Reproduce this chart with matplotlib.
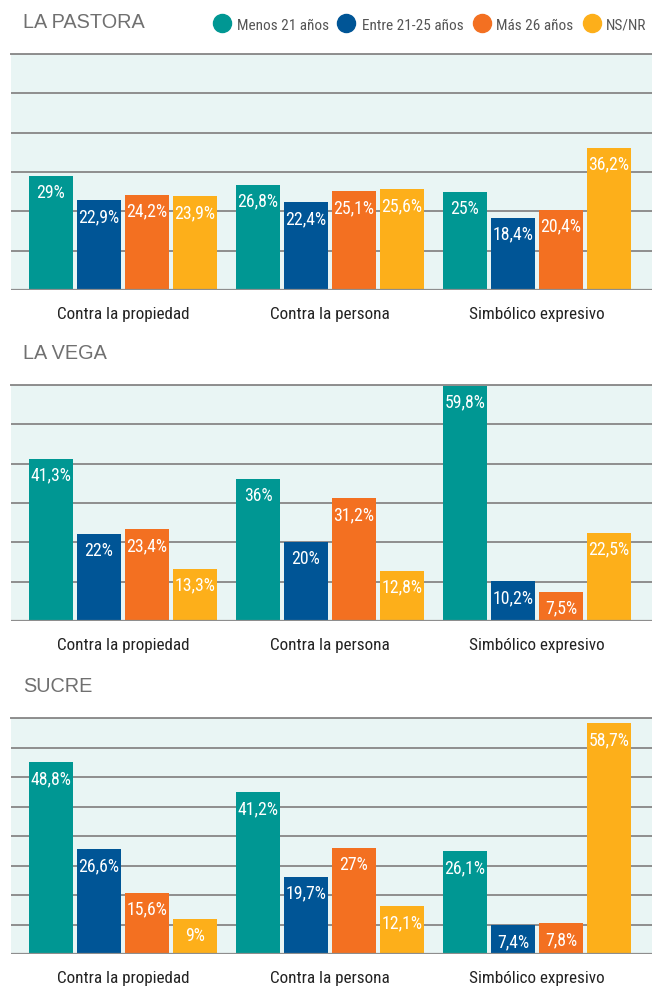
import matplotlib
matplotlib.use("Agg")
import matplotlib.pyplot as plt
from matplotlib.lines import Line2D
from matplotlib import font_manager as fm
import numpy as np

categories = ["Contra la propiedad", "Contra la persona", "Simbólico expresivo"]
series_names = ["Menos 21 años", "Entre 21-25 años", "Más 26 años", "NS/NR"]
colors = ["#009793", "#005596", "#F37021", "#FDAF1A"]

panel_titles = ["LA PASTORA", "LA VEGA", "SUCRE"]

pastora_menos21 = [29.0, 26.8, 25.0]
pastora_21_25 = [22.9, 22.4, 18.4]
pastora_mas26 = [24.2, 25.1, 20.4]
pastora_nsnr = [23.9, 25.6, 36.2]

vega_menos21 = [41.3, 36.0, 59.8]
vega_21_25 = [22.0, 20.0, 10.2]
vega_mas26 = [23.4, 31.2, 7.5]
vega_nsnr = [13.3, 12.8, 22.5]

sucre_menos21 = [48.8, 41.2, 26.1]
sucre_21_25 = [26.6, 19.7, 7.4]
sucre_mas26 = [15.6, 27.0, 7.8]
sucre_nsnr = [9.0, 12.1, 58.7]

panels = [
    [pastora_menos21, pastora_21_25, pastora_mas26, pastora_nsnr],
    [vega_menos21, vega_21_25, vega_mas26, vega_nsnr],
    [sucre_menos21, sucre_21_25, sucre_mas26, sucre_nsnr],
]
grid_steps = [10, 10, 7.5]

available = set(f.name for f in fm.fontManager.ttflist)
def pick(prefs):
    for p in prefs:
        if p in available:
            return [p, "DejaVu Sans"]
    return ["DejaVu Sans"]

NARROW = pick(["Roboto Condensed", "Liberation Sans Narrow", "Archivo Narrow",
               "PT Sans Narrow", "Fira Sans Condensed", "Barlow Semi Condensed",
               "Open Sans Condensed", "DejaVu Sans Condensed"])
REG = pick(["Liberation Sans", "Arimo", "DejaVu Sans"])

FIG_W, FIG_H = 652, 987
fig = plt.figure(figsize=(FIG_W / 100, FIG_H / 100), dpi=100)
fig.patch.set_facecolor("white")

def fy(px):
    return 1 - px / FIG_H

def fx(px):
    return px / FIG_W

ax_tops = [55, 386, 719]
ax_bottoms = [291, 622, 955]
left_px, right_px = 11, 652

def fmt(v):
    s = ("%.1f" % v).replace(".", ",")
    if s.endswith(",0"):
        s = s[:-2]
    return s + "%"

x = np.arange(len(categories))
bw = 0.2126
step = 0.2319

for i, data in enumerate(panels):
    top, bot = ax_tops[i], ax_bottoms[i]
    ax = fig.add_axes([fx(left_px), fy(bot), fx(right_px - left_px), (bot - top) / FIG_H])
    ax.set_facecolor("#E9F5F4")
    ax.set_xlim(-0.541, 2.556)
    ax.set_ylim(0, 60)
    ticks = np.arange(0, 60.01, grid_steps[i])
    ax.set_yticks(ticks)
    ax.yaxis.grid(True, color="#8E8E8E", linewidth=1.4)
    ax.set_axisbelow(True)
    for s in ["left", "right", "bottom", "top"]:
        ax.spines[s].set_visible(False)
    ax.tick_params(left=False, bottom=False, labelleft=False, labelbottom=False)
    ax.axhline(0, color="#8E8E8E", linewidth=1.6, zorder=3)
    ax.axhline(60, color="#8E8E8E", linewidth=1.4, zorder=1, clip_on=False)
    ax.set_xticks(x)
    for xi, cat in zip(x, categories):
        ax.annotate(cat, (xi, 0), xytext=(0, -28), textcoords="offset pixels",
                    ha="center", va="baseline", fontsize=12.3, family=NARROW,
                    color="#222222", annotation_clip=False)
    for j, vals in enumerate(data):
        offs = (j - 1.5) * step
        bars = ax.bar(x + offs, vals, width=bw, color=colors[j], zorder=2)
        for b, v in zip(bars, vals):
            ax.annotate(fmt(v), (b.get_x() + b.get_width() / 2, v),
                        xytext=(0, -21), textcoords="offset pixels",
                        ha="center", va="baseline", color="white",
                        fontsize=12.8, family=NARROW, zorder=4)
    fig.text(fx(23), fy(top - 27), panel_titles[i], fontsize=14.3, family=REG,
             color="#707070", ha="left", va="baseline")

# legend
leg_circle_x = [222, 345.5, 481.5, 591.5]
leg_text_x = [237, 362, 496, 606]
leg_y = 24
for cx, tx, name, c in zip(leg_circle_x, leg_text_x, series_names, colors):
    fig.add_artist(Line2D([fx(cx)], [fy(leg_y)], marker="o", markersize=13,
                          color=c, linestyle="none", transform=fig.transFigure))
    fig.text(fx(tx), fy(30), name, fontsize=11, family=NARROW,
             color="#555555", ha="left", va="baseline")

fig.savefig("out.png", dpi=100, facecolor="white")
